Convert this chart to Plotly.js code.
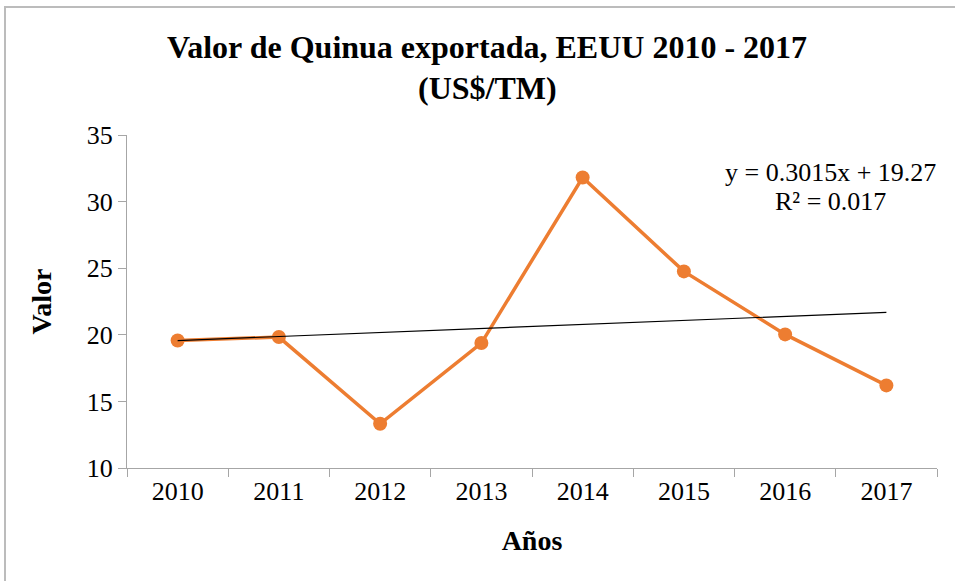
<!DOCTYPE html>
<html>
<head>
<meta charset="utf-8">
<script src="https://cdn.plot.ly/plotly-3.0.1.min.js"></script>
<style>
  html, body { margin: 0; padding: 0; background: #ffffff; overflow: hidden; }
  #wrap { position: relative; width: 955px; height: 581px; }
  #chart { position: absolute; left: 0; top: 0; width: 955px; height: 581px; }
  #frame { position: absolute; left: 4px; top: 6px; width: 980px; height: 600px;
           border-top: 2px solid #bcbcbc; border-left: 2px solid #bcbcbc; pointer-events: none; }
</style>
</head>
<body>
<div id="wrap">
  <div id="chart"></div>
  <div id="frame"></div>
</div>
<script>
// Data
const years = ['2010', '2011', '2012', '2013', '2014', '2015', '2016', '2017'];
const valores = [19.57, 19.83, 13.32, 19.38, 31.81, 24.76, 20.03, 16.2];
// Linear trend line endpoints (as drawn: y = 0.3015x + 19.27)
const trendYears = ['2010', '2017'];
const trendValues = [19.57, 21.68];
const titleLines = ['Valor de Quinua exportada, EEUU 2010 - 2017', '(US$/TM)'];
const equationLines = ['y = 0.3015x + 19.27', 'R² = 0.017'];
const yTicks = [10, 15, 20, 25, 30, 35];

const serif = '"Liberation Serif", "Times New Roman", Times, serif';
const orange = '#ED7D31';
const axisGray = '#a6a6a6';

const traces = [
  {
    type: 'scatter', mode: 'lines+markers',
    x: years, y: valores,
    line: { color: orange, width: 3.5 },
    marker: { color: orange, size: 14 },
    hoverinfo: 'x+y', showlegend: false
  },
  {
    type: 'scatter', mode: 'lines',
    x: trendYears, y: trendValues,
    line: { color: '#000000', width: 1.2 },
    hoverinfo: 'skip', showlegend: false
  }
];

// pixel helpers for annotation placement (plot area: x 127..937, y 135..468)
const px = v => (v - 127) / 810;
const py = v => (468 - v) / 333;

const titleY = [47, 88];
const eqY = [172, 201];

const annotations = [];
titleLines.forEach((t, i) => annotations.push({
  text: '<b>' + t + '</b>', xref: 'paper', yref: 'paper',
  x: px(487), y: py(titleY[i]), xanchor: 'center', yanchor: 'middle',
  showarrow: false, font: { family: serif, size: 32, color: '#000000' }
}));
equationLines.forEach((t, i) => annotations.push({
  text: t, xref: 'paper', yref: 'paper',
  x: px(830), y: py(eqY[i]), xanchor: 'center', yanchor: 'middle',
  showarrow: false, font: { family: serif, size: 26, color: '#000000' }
}));

const layout = {
  width: 955, height: 581,
  margin: { l: 127, r: 18, t: 135, b: 113, pad: 0 },
  paper_bgcolor: '#ffffff', plot_bgcolor: '#ffffff',
  font: { family: serif, color: '#000000', size: 26 },
  showlegend: false,
  xaxis: {
    type: 'category',
    categoryorder: 'array', categoryarray: years,
    range: [-0.5, years.length - 0.5],
    showgrid: false, zeroline: false,
    showline: true, linecolor: axisGray, linewidth: 1,
    ticks: 'outside', tickson: 'boundaries', ticklen: 8, tickcolor: axisGray, tickwidth: 1,
    tickfont: { family: serif, size: 26, color: '#000000' },
    title: { text: '<b>Años</b>', font: { family: serif, size: 28, color: '#000000' }, standoff: 25 }
  },
  yaxis: {
    range: [10, 35],
    tickmode: 'array', tickvals: yTicks, ticktext: yTicks.map(String),
    showgrid: false, zeroline: false,
    showline: true, linecolor: axisGray, linewidth: 1,
    ticks: 'outside', ticklen: 8, tickcolor: axisGray, tickwidth: 1,
    tickfont: { family: serif, size: 26, color: '#000000' },
    title: { text: '<b>Valor</b>', font: { family: serif, size: 28, color: '#000000' }, standoff: 26 }
  },
  annotations: annotations
};

Plotly.newPlot('chart', traces, layout, { displayModeBar: false, staticPlot: true });
</script>
</body>
</html>
